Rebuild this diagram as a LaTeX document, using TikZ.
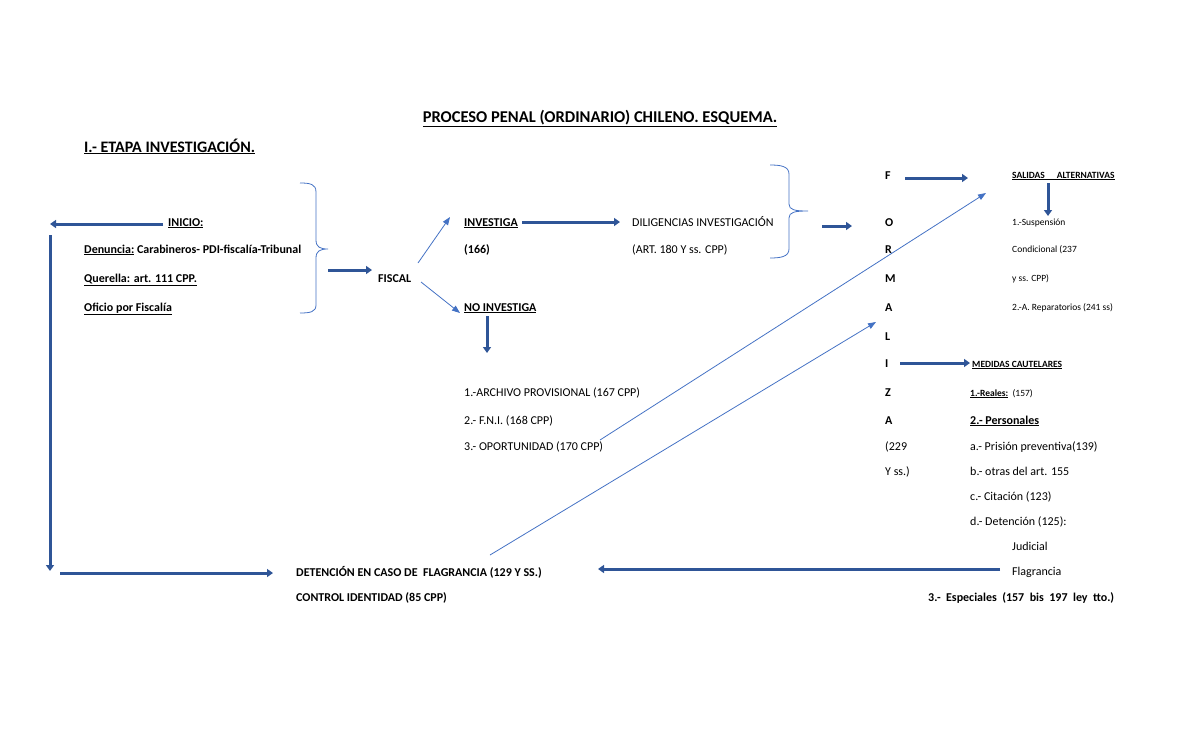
\documentclass[tikz,border=0pt]{standalone}
\usepackage{fontspec}
\setmainfont{Carlito}
\usetikzlibrary{arrows.meta}
\definecolor{thick}{RGB}{47,85,151}
\definecolor{thin}{RGB}{68,114,196}
\begin{document}
\begin{tikzpicture}[x=1pt,y=-1pt,
 t/.style={anchor=base west,inner sep=0pt,font=\fontsize{12}{14}\selectfont},
 b/.style={t,font=\fontsize{12}{14}\selectfont\bfseries},
 s/.style={t,font=\fontsize{9.5}{11}\selectfont},
 big/.style={-{Triangle[length=6pt,width=8pt]},line width=3pt,draw=thick},
 sm/.style={-{Triangle[length=8pt,width=6pt]},line width=0.8pt,draw=thin},
 br/.style={draw=thin,line width=0.8pt}]
\path[use as bounding box] (0,0) rectangle (1200,729);
\node[anchor=base,inner sep=0pt,font=\fontsize{16.5}{19}\selectfont\bfseries] (title) at (600,122) {\underline{PROCESO PENAL (ORDINARIO) CHILENO. ESQUEMA.}};
\node[b,font=\fontsize{16}{19}\selectfont\bfseries] (etapa) at (84,152) {\underline{I.- ETAPA INVESTIGACIÓN.}};
\node[b] (inicio) at (168,226) {\underline{INICIO:}};
\node[b] (den) at (84,253) {\underline{Denuncia:} Carabineros- PDI-fiscalía-Tribunal};
\node[b] (que) at (84,282) {\underline{Querella: art. 111 CPP.}};
\node[b] (ofi) at (84,311) {\underline{Oficio por Fiscalía}};
\coordinate (i1) at (163,224); \coordinate (i2) at (50,224);
\draw[big] (i1) -- (i2);
\coordinate (v1) at (50,235); \coordinate (v2) at (50,571);
\draw[big] (v1) -- (v2);
\draw[br] (300,183) .. controls (310,183) and (316,184) .. (316,192) -- (316,240) .. controls (316,247) and (320,249) .. (328,249) .. controls (320,249) and (316,251) .. (316,258) -- (316,305) .. controls (316,312) and (310,313) .. (300,313);
\node[b] (fiscal) at (378,282) {FISCAL};
\coordinate (f1) at (328,270); \coordinate (f2) at (372,270);
\draw[big] (f1) -- (f2);
\node[b] (inv) at (464,226) {\underline{INVESTIGA}};
\node[b] (n166) at (464,253) {(166)};
\node[b] (noinv) at (464,311) {\underline{NO INVESTIGA}};
\draw[sm] (418,263) -- (450,217);
\draw[sm] (421,282) -- (460,313);
\coordinate (d1) at (522,222); \coordinate (d2) at (620,222);
\draw[big] (d1) -- (d2);
\node[t] (dil) at (632,226) {DILIGENCIAS INVESTIGACIÓN};
\node[t] (art) at (632,253) {(ART. 180 Y ss. CPP)};
\draw[br] (770,165) .. controls (780,165) and (789,166) .. (789,174) -- (789,204) .. controls (789,210) and (795,211) .. (808,211) .. controls (795,211) and (789,212) .. (789,218) -- (789,249) .. controls (789,257) and (780,258) .. (770,258);
\coordinate (g1) at (822,226); \coordinate (g2) at (852,226);
\draw[big] (g1) -- (g2);
\foreach \l/\y/\n in {F/179/lF,O/226/lO,R/253/lR,M/282/lM,A/311/lA,L/340/lL,I/367/lI,Z/396/lZ,A/424/lA2}
  \node[b] (\n) at (885,\y) {\l};
\node[t] (l229) at (885,450) {(229};
\node[t] (lyss) at (885,475) {Y ss.)};
\coordinate (h1) at (905,178); \coordinate (h2) at (968,178);
\draw[big] (h1) -- (h2);
\node[s,font=\fontsize{9.5}{11}\selectfont\bfseries] (sal) at (1012,178) {\underline{SALIDAS\hspace{12pt}ALTERNATIVAS}};
\coordinate (k1) at (1048,183); \coordinate (k2) at (1048,216);
\draw[big] (k1) -- (k2);
\node[s] (s1) at (1012,225) {1.-Suspensión};
\node[s] (s2) at (1012,252) {Condicional (237};
\node[s] (s3) at (1012,281) {y ss. CPP)};
\node[s] (s4) at (1012,310) {2.-A. Reparatorios (241 ss)};
\coordinate (m1) at (900,363); \coordinate (m2) at (970,363);
\draw[big] (m1) -- (m2);
\node[s,font=\fontsize{9.5}{11}\selectfont\bfseries] (med) at (972,367) {\underline{MEDIDAS CAUTELARES}};
\node[s] (re) at (970,396) {\textbf{\underline{1.-Reales:}}\ \ (157)};
\node[b] (pe) at (970,424) {\underline{2.- Personales}};
\node[t] (pa) at (970,450) {a.- Prisión preventiva(139)};
\node[t] (pb) at (970,475) {b.- otras del art. 155};
\node[t] (pc) at (970,500) {c.- Citación (123)};
\node[t] (pd) at (970,525) {d.- Detención (125):};
\node[t] (jud) at (1012,550) {Judicial};
\node[t] (fla) at (1012,575) {Flagrancia};
\node[b] (esp) at (928,601) {3.-\ \ Especiales\ \ (157\ \ bis\ \ 197\ \ ley\ \ tto.)};
\coordinate (n1) at (487,316); \coordinate (n2) at (487,353);
\draw[big] (n1) -- (n2);
\node[t] (o1) at (464,396) {1.-ARCHIVO PROVISIONAL (167 CPP)};
\node[t] (o2) at (464,424) {2.- F.N.I. (168 CPP)};
\node[t] (o3) at (464,450) {3.- OPORTUNIDAD (170 CPP)};
\coordinate (p1) at (600,440); \coordinate (p2) at (986,193);
\draw[sm] (p1) -- (p2);
\coordinate (q1) at (490,555); \coordinate (q2) at (876,322);
\draw[sm] (q1) -- (q2);
\coordinate (r1) at (60,573); \coordinate (r2) at (273,573);
\draw[big] (r1) -- (r2);
\node[b] (det) at (296,576) {DETENCIÓN EN CASO DE\ \ FLAGRANCIA (129 Y SS.)};
\node[b] (con) at (296,601) {CONTROL IDENTIDAD (85 CPP)};
\coordinate (w1) at (1000,569); \coordinate (w2) at (598,569);
\draw[big] (w1) -- (w2);
\end{tikzpicture}
\end{document}
